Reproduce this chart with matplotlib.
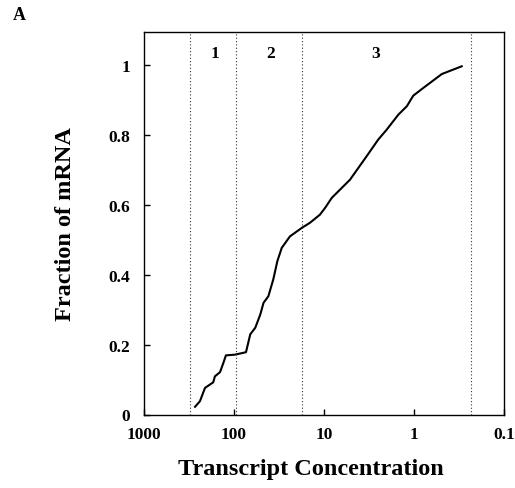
import matplotlib.pyplot as plt

# curve (concentration, cumulative fraction)
concentration = [271, 239, 210, 170, 163, 143, 131, 123, 97.5, 73.6, 66, 58,
                 51, 47, 41.5, 36.6, 33, 29.5, 23.9, 17.7, 14.3, 11.1, 9.75,
                 8.2, 5.14, 3.36, 2.49, 2.01, 1.49, 1.2, 1.02, 0.79, 0.49, 0.295]
fraction = [0.022, 0.038, 0.076, 0.092, 0.109, 0.121, 0.148, 0.169, 0.171,
            0.178, 0.229, 0.248, 0.286, 0.319, 0.338, 0.386, 0.438, 0.476,
            0.509, 0.533, 0.548, 0.571, 0.59, 0.619, 0.671, 0.738, 0.786,
            0.814, 0.857, 0.881, 0.911, 0.933, 0.973, 0.995]

# region boundaries and labels
boundaries = [308, 95, 17.5, 0.233]
region_labels = ["1", "2", "3"]
region_label_x = [162, 38.8, 2.7]

x_ticks = [1000, 100, 10, 1, 0.1]
x_tick_labels = ["1000", "100", "10", "1", "0.1"]
y_ticks = [0, 0.2, 0.4, 0.6, 0.8, 1]
y_tick_labels = ["0", "0.2", "0.4", "0.6", "0.8", "1"]

plt.rcParams["font.family"] = ["Liberation Serif", "DejaVu Serif"]
plt.rcParams["font.weight"] = "bold"

fig = plt.figure(figsize=(5.15, 4.89), dpi=100)
ax = fig.add_axes([144 / 515, 1 - 415.5 / 489, 360 / 515, 382.5 / 489])

ax.plot(concentration, fraction, color="black", linewidth=1.5)

for b in boundaries:
    ax.axvline(b, color="#333333", linestyle=(0, (1, 2)), linewidth=0.8)

for lbl, xp in zip(region_labels, region_label_x):
    ax.text(xp, 1.034, lbl, ha="center", va="center", fontsize=12.5,
            fontweight="bold")

ax.set_xscale("log")
ax.set_xlim(1000, 0.1)
ax.set_ylim(0, 1.093)
ax.set_xticks(x_ticks)
ax.set_xticklabels(x_tick_labels)
ax.minorticks_off()
ax.set_yticks(y_ticks)
ax.set_yticklabels(y_tick_labels)
ax.tick_params(direction="in", length=4, width=1, labelsize=12.5, pad=8)
ax.tick_params(axis="y", pad=10)

for s in ax.spines.values():
    s.set_linewidth(1)

ax.set_xlabel("Transcript Concentration", fontsize=17.5, fontweight="bold")
ax.xaxis.set_label_coords(0.4625, -0.115)
ax.set_ylabel("Fraction of mRNA", fontsize=17.5, fontweight="bold",
              labelpad=23)

fig.text(13 / 515, 1 - 16 / 489, "A", fontsize=13, fontweight="bold",
         va="center", ha="left")

fig.savefig("out.png", dpi=100)
